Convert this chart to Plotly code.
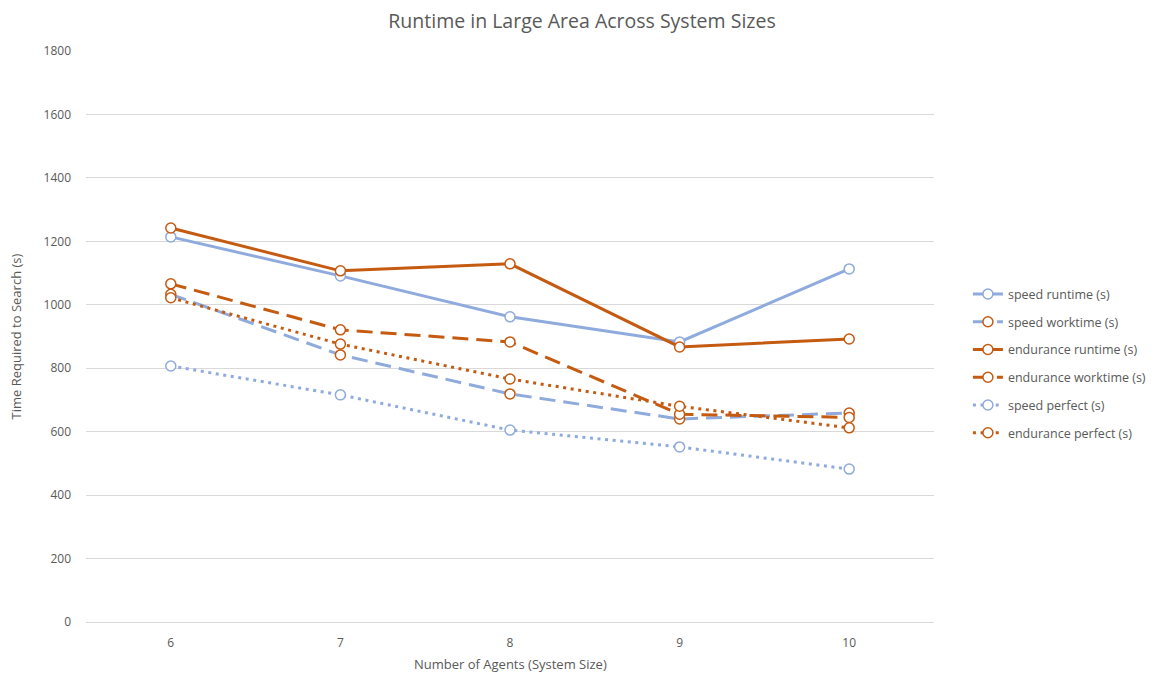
import plotly.graph_objects as go

agents = ["6", "7", "8", "9", "10"]
speed_runtime = [1214, 1091, 962, 883, 1113]
speed_worktime = [1033, 842, 719, 640, 659]
endurance_runtime = [1242, 1107, 1129, 867, 892]
endurance_worktime = [1066, 921, 883, 655, 645]
speed_perfect = [807, 716, 605, 552, 482]
endurance_perfect = [1022, 876, 766, 680, 612]

BLUE = "#8FAADC"
ORANGE = "#C55A11"
DASH = "16px,8px"
DOT = "3px,4.6px"

series = [
    ("speed runtime (s)", speed_runtime, BLUE, BLUE, "solid"),
    ("speed worktime (s)", speed_worktime, BLUE, ORANGE, DASH),
    ("endurance runtime (s)", endurance_runtime, ORANGE, ORANGE, "solid"),
    ("endurance worktime (s)", endurance_worktime, ORANGE, ORANGE, DASH),
    ("speed perfect (s)", speed_perfect, BLUE, BLUE, DOT),
    ("endurance perfect (s)", endurance_perfect, ORANGE, ORANGE, DOT),
]

fig = go.Figure()
for i, (name, vals, lc, mc, dash) in enumerate(series):
    fig.add_trace(go.Scatter(
        x=agents, y=vals, name=name, mode="lines+markers",
        legendgroup=f"g{i}",
        line=dict(color=lc, width=3, dash=dash),
        marker=dict(symbol="circle", size=10, color="white",
                    line=dict(color=mc, width=1.5)),
    ))

GRAY = "#595959"
W, H = 1148, 667
fig.update_layout(
    width=W, height=H,
    paper_bgcolor="white", plot_bgcolor="white",
    margin=dict(l=78, r=222, t=43, b=53, autoexpand=False),
    font=dict(family="Open Sans, Liberation Sans, sans-serif", color=GRAY, size=12),
    title=dict(text="Runtime in Large Area Across System Sizes", x=0.5, xanchor="center",
               xref="container", y=1 - 13 / H, yref="container", yanchor="middle",
               font=dict(size=19.5, color=GRAY)),
    legend=dict(x=1.04, xanchor="left", y=0.6, yanchor="top",
                font=dict(size=12.5, color=GRAY), tracegroupgap=8.5,
                bgcolor="rgba(0,0,0,0)"),
    xaxis=dict(type="category", range=[-0.5, 4.5], showgrid=False, automargin=False,
               showline=True, linecolor="#D9D9D9", linewidth=1, ticks="",
               ticklabelstandoff=10,
               tickfont=dict(size=12, color=GRAY)),
    yaxis=dict(range=[0, 1800], dtick=200, showgrid=True, gridcolor="#D9D9D9", gridwidth=1,
               zeroline=False, showline=False, ticks="", automargin=False,
               ticklabelstandoff=14,
               tickfont=dict(size=12, color=GRAY)),
    annotations=[
        dict(text="Number of Agents (System Size)", xref="paper", yref="paper",
             x=0.5, y=-0.0735, xanchor="center", yanchor="middle",
             showarrow=False, font=dict(size=13, color=GRAY)),
        dict(text="Time Required to Search (s)", xref="paper", yref="paper",
             x=-0.0837, y=0.5, textangle=-90, xanchor="center", yanchor="middle",
             showarrow=False, font=dict(size=13, color=GRAY)),
    ],
)

fig.write_html("out.html")
